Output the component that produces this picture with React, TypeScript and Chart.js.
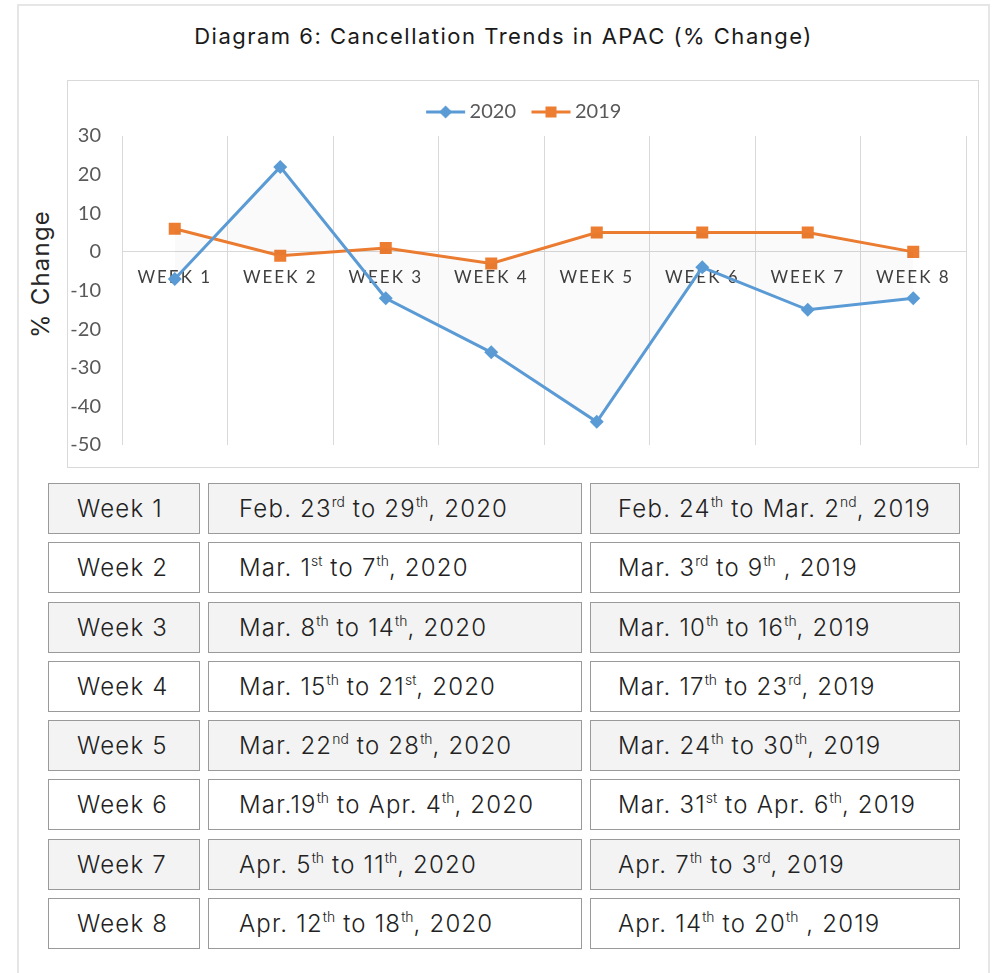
import React, { useEffect, useRef } from "react";
import { Chart, registerables } from "chart.js";

Chart.register(...registerables);

const categories = ["WEEK 1", "WEEK 2", "WEEK 3", "WEEK 4", "WEEK 5", "WEEK 6", "WEEK 7", "WEEK 8"];
const series2020 = [-7, 22, -12, -26, -44, -4, -15, -12];
const series2019 = [6, -1, 1, -3, 5, 5, 5, 0];
const seriesLabels = ["2020", "2019"];
const yMin = -50;
const yMax = 30;
const yStep = 10;

const weekNames = ["Week 1", "Week 2", "Week 3", "Week 4", "Week 5", "Week 6", "Week 7", "Week 8"];
const dates2020 = [
  "Feb. 23[rd] to 29[th], 2020",
  "Mar. 1[st] to 7[th], 2020",
  "Mar. 8[th] to 14[th], 2020",
  "Mar. 15[th] to 21[st], 2020",
  "Mar. 22[nd] to 28[th], 2020",
  "Mar.19[th] to Apr. 4[th], 2020",
  "Apr. 5[th] to 11[th], 2020",
  "Apr. 12[th] to 18[th], 2020",
];
const dates2019 = [
  "Feb. 24[th] to Mar. 2[nd], 2019",
  "Mar. 3[rd] to 9[th] , 2019",
  "Mar. 10[th] to 16[th], 2019",
  "Mar. 17[th] to 23[rd], 2019",
  "Mar. 24[th] to 30[th], 2019",
  "Mar. 31[st] to Apr. 6[th], 2019",
  "Apr. 7[th] to 3[rd], 2019",
  "Apr. 14[th] to 20[th] , 2019",
];

const BLUE = "#5B9BD5";
const ORANGE = "#ED7D31";
const CHART_FONT = "Lato";
const PAGE_FONT = "Inter";

function renderDate(s: string) {
  const parts = s.split(/\[(.*?)\]/);
  return (
    <span style={{ whiteSpace: "pre" }}>
      {parts.map((p, i) =>
        i % 2 === 1 ? (
          <sup key={i} style={{ fontSize: "0.58em", lineHeight: 0, verticalAlign: "0.7em", letterSpacing: 0 }}>{p}</sup>
        ) : (
          <span key={i}>{p}</span>
        )
      )}
    </span>
  );
}

function makeIcon(color: string, kind: "diamond" | "square") {
  const c = document.createElement("canvas");
  c.width = 60;
  c.height = 16;
  const ctx = c.getContext("2d")!;
  ctx.strokeStyle = color;
  ctx.lineWidth = 3;
  ctx.beginPath();
  ctx.moveTo(20, 8);
  ctx.lineTo(59, 8);
  ctx.stroke();
  ctx.fillStyle = color;
  const cx = 39.5;
  if (kind === "diamond") {
    ctx.beginPath();
    ctx.moveTo(cx, 1.5);
    ctx.lineTo(cx + 6.5, 8);
    ctx.lineTo(cx, 14.5);
    ctx.lineTo(cx - 6.5, 8);
    ctx.closePath();
    ctx.fill();
  } else {
    ctx.fillRect(cx - 5.5, 2.5, 11, 11);
  }
  return c;
}

function LineChart() {
  const ref = useRef<HTMLCanvasElement | null>(null);
  useEffect(() => {
    if (!ref.current) return;
    const icons = [makeIcon(BLUE, "diamond"), makeIcon(ORANGE, "square")];
    const spacingPlugin = {
      id: "xLetterSpacing",
      beforeDraw(chart: any) {
        const sc: any = chart.scales.x;
        if (sc && !sc.__wrapped) {
          const orig = sc.drawLabels.bind(sc);
          sc.drawLabels = (area: any) => {
            const ctx: any = chart.ctx;
            ctx.save();
            ctx.letterSpacing = "2px";
            orig(area);
            ctx.restore();
          };
          sc.__wrapped = true;
        }
      },
    };
    const chart = new Chart(ref.current, {
      type: "line",
      data: {
        labels: categories,
        datasets: [
          {
            label: seriesLabels[0],
            data: series2020,
            borderColor: BLUE,
            backgroundColor: "rgba(0,0,0,0.018)",
            borderWidth: 3,
            pointStyle: "rectRot",
            pointRadius: 7,
            pointBorderWidth: 0,
            pointBackgroundColor: BLUE,
            pointBorderColor: BLUE,
            tension: 0,
            fill: "+1",
          },
          {
            label: seriesLabels[1],
            data: series2019,
            borderColor: ORANGE,
            backgroundColor: ORANGE,
            borderWidth: 3,
            pointStyle: "rect",
            pointRadius: 8.5,
            pointBorderWidth: 0,
            pointBackgroundColor: ORANGE,
            pointBorderColor: ORANGE,
            tension: 0,
            fill: false,
          },
        ],
      },
      options: {
        responsive: false,
        animation: false,
        devicePixelRatio: 1,
        layout: { padding: { left: 0, right: 12, top: 19, bottom: 10 } },
        plugins: {
          title: { display: false },
          tooltip: { enabled: false },
          legend: {
            display: true,
            position: "top",
            labels: {
              usePointStyle: true,
              pointStyleWidth: 47,
              padding: 2,
              color: "#595959",
              font: { family: CHART_FONT, size: 20 },
              generateLabels: (ch: any) =>
                ch.data.datasets.map((ds: any, i: number) => ({
                  text: ds.label,
                  pointStyle: icons[i],
                  fillStyle: ds.borderColor,
                  strokeStyle: ds.borderColor,
                  lineWidth: 0,
                  hidden: false,
                  datasetIndex: i,
                  fontColor: "#595959",
                })),
            },
          },
        },
        scales: {
          x: {
            type: "category",
            position: { y: 0 } as any,
            offset: true,
            grid: { display: true, color: "#d9d9d9", lineWidth: 1, offset: true, drawTicks: false, tickLength: 0 },
            border: { display: true, color: "#d9d9d9", width: 1 },
            ticks: {
              color: "#404040",
              font: { family: CHART_FONT, size: 17 },
              padding: 15,
              autoSkip: false,
              maxRotation: 0,
              minRotation: 0,
            },
            afterFit: (s: any) => {
              s.height = 0;
            },
          },
          xTop: {
            type: "category",
            position: "top",
            display: true,
            grid: { display: false, drawTicks: false, tickLength: 0 },
            border: { display: false },
            ticks: { display: false },
            afterFit: (s: any) => {
              s.height = 4;
            },
          },
          y: {
            type: "linear",
            min: yMin,
            max: yMax,
            grid: { display: false, drawTicks: false, tickLength: 0 },
            border: { display: false },
            ticks: {
              stepSize: yStep,
              autoSkip: false,
              color: "#595959",
              font: { family: CHART_FONT, size: 20, lineHeight: 0.1 },
              padding: 21,
            },
            afterFit: (s: any) => {
              s.width = 54;
            },
          },
        },
      } as any,
      plugins: [spacingPlugin],
    });
    return () => chart.destroy();
  }, []);
  return <canvas ref={ref} width={910} height={386} style={{ display: "block", width: 910, height: 386 }} />;
}

export default function App() {
  const cellBase: React.CSSProperties = {
    boxSizing: "border-box",
    border: "1px solid #9a9a9a",
    display: "flex",
    alignItems: "center",
    fontSize: 24,
    fontWeight: 300,
    letterSpacing: "1.2px",
    color: "#222",
    whiteSpace: "nowrap",
  };
  return (
    <div
      style={{
        position: "absolute",
        left: 0,
        top: 0,
        width: 997,
        height: 973,
        overflow: "hidden",
        background: "#fff",
        fontFamily: PAGE_FONT,
      }}
    >
      <div
        style={{
          position: "absolute",
          left: 17,
          top: 4,
          width: 973,
          height: 1000,
          boxSizing: "border-box",
          border: "2px solid #e6e6e6",
        }}
      />
      <div
        style={{
          position: "absolute",
          left: 17,
          width: 973,
          top: 21,
          lineHeight: "30px",
          textAlign: "center",
          fontSize: 22,
          letterSpacing: "1.5px",
          color: "#1a1a1a",
        }}
      >
        Diagram 6: Cancellation Trends in APAC (% Change)
      </div>
      <div
        style={{
          position: "absolute",
          left: 40,
          top: 274,
          transform: "translate(-50%, -50%) rotate(-90deg)",
          whiteSpace: "nowrap",
          fontSize: 24,
          letterSpacing: "1.2px",
          color: "#262626",
        }}
      >
        % Change
      </div>
      <div
        style={{
          position: "absolute",
          left: 67,
          top: 80,
          width: 912,
          height: 388,
          boxSizing: "border-box",
          border: "1px solid #d9d9d9",
          background: "#fff",
        }}
      >
        <LineChart />
      </div>
      <div
        style={{
          position: "absolute",
          left: 48,
          top: 483,
          display: "grid",
          gridTemplateColumns: "152px 374px 370px",
          gridAutoRows: "51px",
          columnGap: 8,
          rowGap: 8.3,
        }}
      >
        {weekNames.map((w, i) => {
          const bg = i % 2 === 0 ? "#f3f3f3" : "#fff";
          return (
            <React.Fragment key={w}>
              <div style={{ ...cellBase, background: bg, paddingLeft: 28 }}>
                <span>{w}</span>
              </div>
              <div style={{ ...cellBase, background: bg, paddingLeft: 30 }}>{renderDate(dates2020[i])}</div>
              <div style={{ ...cellBase, background: bg, paddingLeft: 27 }}>{renderDate(dates2019[i])}</div>
            </React.Fragment>
          );
        })}
      </div>
    </div>
  );
}
